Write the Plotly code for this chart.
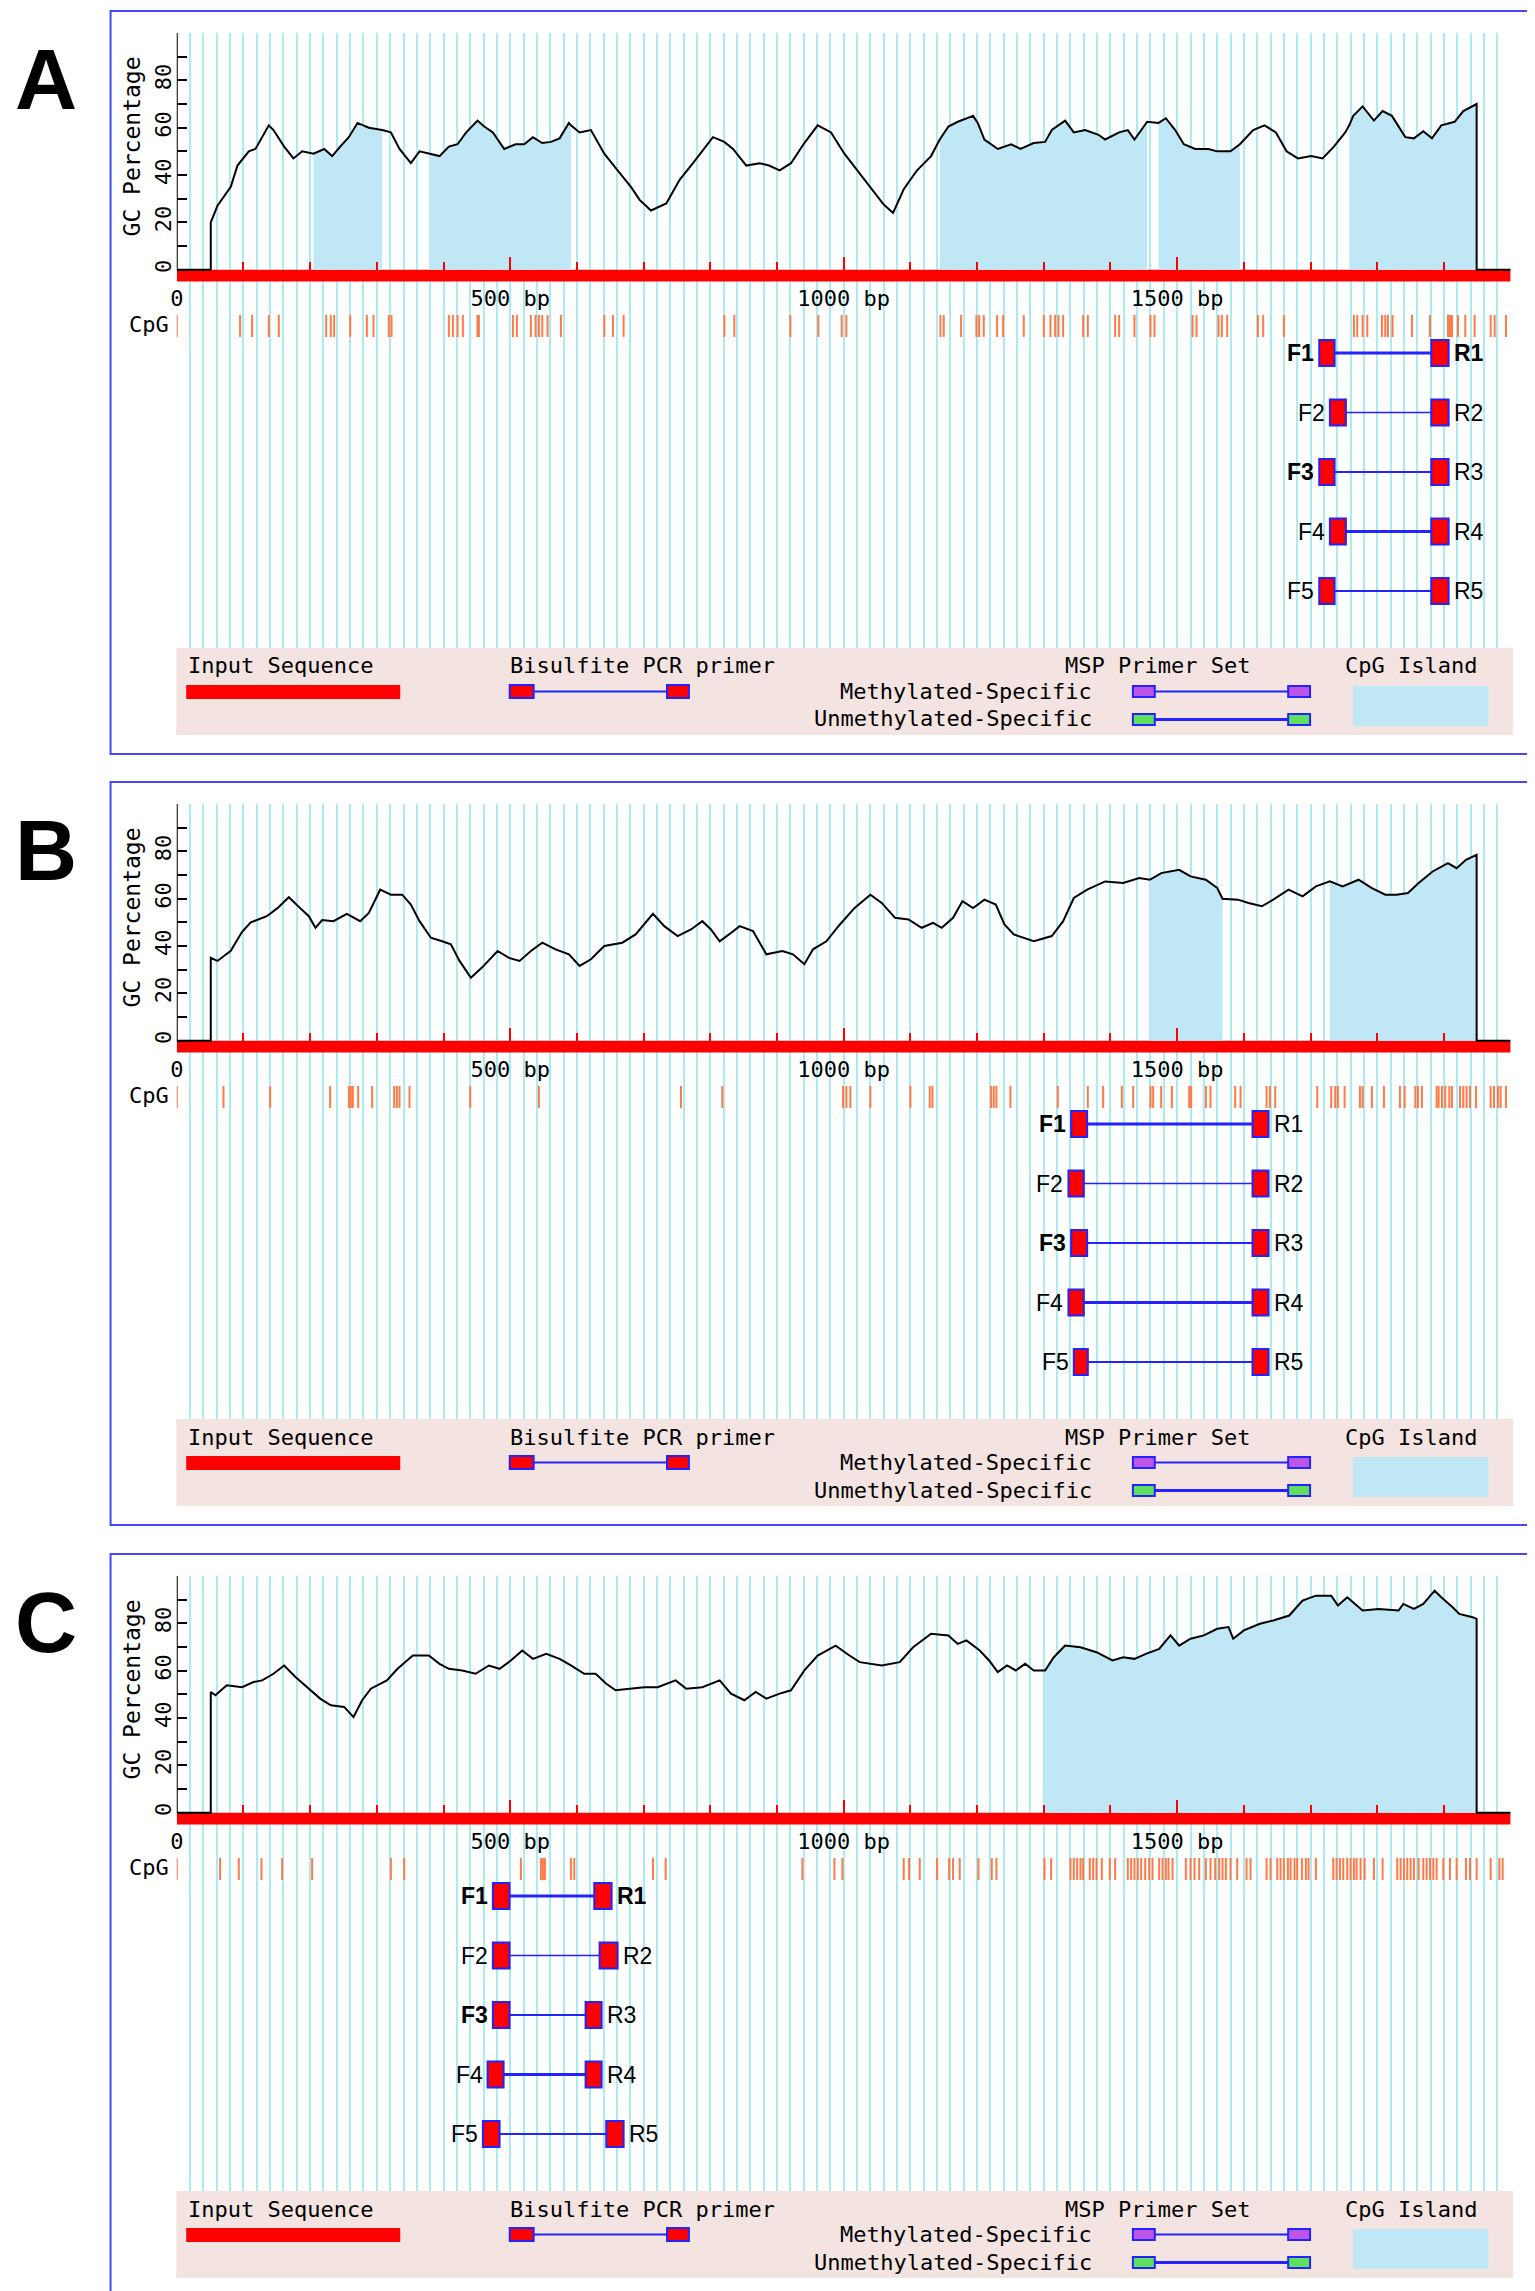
import numpy as np
import plotly.graph_objects as go

W, H = 1535, 2291

# ---------------- data ----------------
seq_len = 2000
panel_letters = ["A", "B", "C"]
x_tickvals = [0, 500, 1000, 1500]
x_ticktext = ["0", "500 bp", "1000 bp", "1500 bp"]
y_tickvals = [0, 20, 40, 60, 80]
y_minor_tickvals = [10, 30, 50, 70, 90, 100]
primer_ids = ["1", "2", "3", "4", "5"]

# panel A
gc_bp_a = [0, 51, 51, 61, 81, 91, 108, 118, 138, 145,
           161, 175, 188, 205, 221, 233, 245, 258, 271, 288,
           308, 321, 334, 351, 364, 378, 394, 408, 421, 434,
           451, 461, 474, 491, 508, 521, 534, 548, 561, 574,
           588, 591, 604, 621, 641, 661, 681, 694, 711, 734,
           754, 774, 791, 804, 821, 834, 854, 874, 888, 904,
           921, 941, 961, 981, 1001, 1023, 1043, 1060, 1074, 1090,
           1110, 1131, 1144, 1157, 1171, 1194, 1201, 1211, 1231, 1251,
           1265, 1285, 1302, 1312, 1332, 1345, 1362, 1382, 1392, 1413,
           1426, 1436, 1455, 1472, 1483, 1497, 1510, 1527, 1547, 1560,
           1580, 1594, 1614, 1631, 1648, 1664, 1681, 1701, 1718, 1735,
           1752, 1758, 1764, 1778, 1795, 1808, 1822, 1842, 1855, 1869,
           1882, 1896, 1916, 1929, 1949, 1949, 2000]
gc_pct_a = [0, 0, 20, 27, 35, 44, 50, 51, 61, 59,
            52, 47, 50, 49, 51, 48, 52, 56, 62, 60,
            59, 58, 51, 45, 50, 49, 48, 52, 53, 58,
            63, 60.5, 58, 51, 53, 53, 56, 53.5, 54, 55.5,
            62, 61, 58, 59, 49, 42, 35, 29.5, 25, 28,
            38, 45, 51, 56, 54, 51, 44, 45, 44, 42,
            45, 53.5, 61, 58, 49, 41, 34, 27.5, 24, 34,
            42, 48, 55, 60.5, 62.5, 65, 62, 55, 51, 53,
            51, 53.5, 54, 59, 63, 58, 59, 57, 55, 58,
            59, 55, 62.5, 62, 64, 59, 53, 51, 51, 50,
            50, 53, 59, 61, 58, 50, 47, 48, 47, 52,
            58, 61, 65, 69, 63, 67, 65, 56, 55.5, 58.5,
            55.5, 61, 62.5, 67, 70, 0, 0]
island_start_a = [205, 378, 1144, 1472, 1758]
island_end_a = [308, 591, 1455, 1594, 1949]
cpg_a = [0, 95, 113, 138, 153, 224, 231, 236, 260, 285, 295, 318, 322, 408, 414,
         421, 429, 451, 453, 504, 510, 531, 538, 543, 548, 556, 576, 641, 654, 670,
         821, 836, 920, 962, 997, 1004, 1145, 1150, 1176, 1199, 1203, 1210, 1230,
         1239, 1270, 1300, 1310, 1317, 1322, 1329, 1359, 1366, 1407, 1413, 1436,
         1460, 1466, 1523, 1529, 1562, 1567, 1575, 1621, 1629, 1660, 1765, 1770,
         1778, 1785, 1807, 1812, 1816, 1823, 1852, 1879, 1906, 1909, 1912, 1921,
         1932, 1946, 1970, 1976, 1993]
fwd_start_a = [1713, 1729, 1713, 1729, 1713]
fwd_end_a = [1736, 1753, 1736, 1753, 1736]
rev_start_a = [1881, 1881, 1881, 1881, 1881]
rev_end_a = [1907, 1907, 1907, 1907, 1907]

# panel B
gc_bp_b = [0, 51, 51, 61, 81, 98, 111, 135, 151, 168,
           185, 198, 208, 218, 235, 255, 275, 288, 305, 321,
           338, 351, 364, 381, 398, 411, 424, 441, 458, 481,
           498, 514, 531, 548, 568, 588, 604, 621, 641, 668,
           688, 704, 714, 731, 751, 771, 788, 801, 814, 828,
           844, 864, 884, 908, 924, 941, 954, 974, 994, 1016,
           1040, 1057, 1077, 1097, 1117, 1134, 1147, 1164, 1178, 1194,
           1211, 1228, 1241, 1255, 1285, 1312, 1329, 1345, 1365, 1392,
           1419, 1443, 1459, 1476, 1503, 1520, 1543, 1560, 1568, 1591,
           1607, 1627, 1644, 1667, 1688, 1708, 1729, 1748, 1772, 1792,
           1812, 1829, 1846, 1862, 1883, 1906, 1919, 1933, 1949, 1949,
           2000]
gc_pct_b = [0, 0, 35, 33.7, 38, 46, 50, 52.6, 56, 60.6,
            56, 52.6, 47.7, 51, 50.5, 53.6, 50.5, 54, 63.8, 61.7,
            61.7, 57.5, 50.5, 43.5, 42, 40.7, 33.7, 26.6, 31, 37.9,
            35, 33.7, 37.9, 41.4, 38.6, 36.5, 31.6, 34.4, 40, 41.4,
            44.9, 50.5, 53.6, 48.4, 44.2, 47, 50.5, 47, 42, 44.9,
            48.4, 46.3, 36.5, 37.9, 36.5, 32.3, 38.6, 42, 49, 56,
            61.7, 58.2, 51.9, 51.2, 47.7, 49.8, 47.7, 51.9, 58.9, 56,
            59.6, 57.5, 49.1, 44.9, 42, 44.2, 50.5, 60.3, 63.8, 67.3,
            66.6, 68.7, 68, 70.8, 72.2, 69.4, 68, 64.5, 60, 59.6,
            58.2, 56.8, 59.6, 63.8, 61, 65.2, 67.3, 65.2, 68, 64.5,
            61.7, 61.7, 62.4, 66.6, 71.5, 75, 72.9, 76.4, 78.5, 0,
            0]
island_start_b = [1459, 1729]
island_end_b = [1568, 1949]
cpg_b = [0, 70, 140, 230, 258, 261, 264, 272, 293, 326, 330, 334, 349, 440, 543,
         756, 818, 999, 1004, 1010, 1040, 1100, 1129, 1133, 1221, 1225, 1229, 1250,
         1321, 1366, 1389, 1417, 1434, 1460, 1464, 1476, 1492, 1518, 1521, 1543,
         1550, 1587, 1595, 1634, 1639, 1647, 1710, 1731, 1737, 1741, 1751, 1774,
         1778, 1792, 1810, 1834, 1841, 1857, 1861, 1867, 1889, 1892, 1897, 1902,
         1908, 1912, 1924, 1929, 1934, 1939, 1948, 1970, 1975, 1981, 1985, 1993]
fwd_start_b = [1341, 1337, 1341, 1337, 1345]
fwd_end_b = [1365, 1360, 1365, 1360, 1366]
rev_start_b = [1613, 1613, 1613, 1613, 1613]
rev_end_b = [1637, 1637, 1637, 1637, 1637]

# panel C
gc_bp_c = [0, 51, 51, 58, 75, 98, 115, 128, 145, 161,
           178, 195, 215, 231, 251, 265, 278, 291, 315, 331,
           354, 378, 394, 408, 428, 448, 468, 484, 501, 518,
           534, 554, 574, 591, 611, 628, 644, 658, 678, 701,
           721, 748, 764, 788, 814, 831, 851, 868, 884, 904,
           921, 941, 961, 988, 1008, 1024, 1057, 1084, 1104, 1131,
           1157, 1171, 1184, 1204, 1218, 1231, 1245, 1258, 1272, 1285,
           1302, 1315, 1332, 1355, 1379, 1403, 1419, 1436, 1453, 1473,
           1490, 1503, 1520, 1540, 1560, 1577, 1584, 1600, 1624, 1644,
           1668, 1688, 1708, 1731, 1741, 1755, 1778, 1802, 1832, 1839,
           1855, 1869, 1886, 1896, 1913, 1923, 1943, 1949, 1949, 2000]
gc_pct_c = [0, 0, 51, 49.6, 53.8, 53, 55.2, 55.9, 58.7, 62.2,
            57.3, 53, 48.2, 45.4, 44.7, 40.4, 47.5, 52.4, 55.9, 60.8,
            66.4, 66.4, 62.9, 60.8, 60.1, 58.7, 62.2, 60.8, 64.3, 68.5,
            65, 67.1, 65, 62.2, 58.7, 58.7, 54.5, 51.7, 52.4, 53,
            53, 55.9, 52.4, 53, 55.9, 50.3, 47.5, 51, 48.2, 50.3,
            51.7, 60.1, 66.4, 70.6, 66.5, 63.6, 62.2, 63.6, 69.9, 75.6,
            74.9, 71.3, 72.8, 68.5, 64.3, 59.4, 62.2, 60.1, 62.9, 60.1,
            60.1, 65.7, 70.6, 69.9, 67.8, 64.3, 65.7, 65, 67.1, 69.2,
            74.9, 70.6, 73.5, 74.9, 77.7, 78.4, 73.5, 77, 79.8, 81.2,
            83.3, 89.6, 91.7, 91.7, 87.5, 91, 85.4, 86.1, 85.4, 88.2,
            86.1, 88.2, 93.8, 91, 86.8, 84, 82.6, 81.9, 0, 0]
island_start_c = [1302]
island_end_c = [1949]
cpg_c = [0, 65, 93, 127, 158, 203, 321, 341, 516, 546, 549, 552, 591, 596, 714,
         733, 938, 986, 998, 1090, 1098, 1114, 1140, 1158, 1164, 1174, 1202, 1222,
         1229, 1301, 1311, 1340, 1345, 1350, 1355, 1359, 1369, 1374, 1379, 1387,
         1399, 1407, 1426, 1431, 1436, 1441, 1446, 1452, 1458, 1463, 1473, 1478,
         1483, 1487, 1493, 1513, 1520, 1526, 1533, 1543, 1550, 1557, 1563, 1568,
         1573, 1580, 1590, 1604, 1610, 1634, 1640, 1650, 1655, 1660, 1666, 1670,
         1676, 1680, 1687, 1693, 1697, 1708, 1734, 1739, 1744, 1749, 1755, 1760,
         1765, 1769, 1775, 1781, 1795, 1808, 1830, 1835, 1840, 1845, 1850, 1855,
         1862, 1869, 1874, 1879, 1884, 1889, 1899, 1909, 1919, 1933, 1939, 1949,
         1970, 1983, 1988]
fwd_start_c = [474, 474, 474, 466, 459]
fwd_end_c = [499, 499, 499, 490, 484]
rev_start_c = [626, 634, 613, 613, 644]
rev_end_c = [652, 661, 637, 637, 670]

# ---------------- layout / style (pixels) ----------------
PANEL_DY = [0, 771, 1543]
X_BP0, X_BPEND = 162.5, 1502.5
Y_TOP, Y_ZERO, Y_GRID_BOTTOM = 25, 261.7, 640
RED_BOTTOM = 273.5
CPG_TOP, CPG_BOTTOM = 307, 329
ROW0, ROW_STEP, BOX_H = 345, 59.5, 26
ROW_LINE_W = [3, 1.5, 2, 3, 2]
BOLD_LABELS = [{"F1", "R1", "F3"}, {"F1", "F3"}, {"F1", "R1", "F3"}]

RED = "#ff0000"
BLUE = "#2323ff"
FRAME = "#4646ff"
GRID = "#a9edf2"
ISLAND = "#bfe7f6"
CPG = "#ff7a48"
PINK = "#f3e4e2"
PURPLE = "#bd55e6"
GREEN = "#5ee05e"
MONO = "DejaVu Sans Mono"
SANS = "Liberation Sans"

units_per_px = 100 / (Y_ZERO - Y_TOP)


def px2x(px):
    return px / W


def px2y(py):
    return 1 - py / H


def gc_units(py):
    # pixel row inside a panel -> GC axis units
    return (Y_ZERO - py) * units_per_px


panels = [
    (gc_bp_a, gc_pct_a, island_start_a, island_end_a, cpg_a,
     fwd_start_a, fwd_end_a, rev_start_a, rev_end_a),
    (gc_bp_b, gc_pct_b, island_start_b, island_end_b, cpg_b,
     fwd_start_b, fwd_end_b, rev_start_b, rev_end_b),
    (gc_bp_c, gc_pct_c, island_start_c, island_end_c, cpg_c,
     fwd_start_c, fwd_end_c, rev_start_c, rev_end_c),
]

fig = go.Figure()
shapes = []
annotations = []
axes = {}

for i, (gbp, gpc, isl_s, isl_e, cpg, fs, fe, rs, re_) in enumerate(panels):
    dy = PANEL_DY[i]
    xn = 2 * i + 1
    xid = "x" if xn == 1 else f"x{xn}"
    gid = f"x{xn + 1}"
    yid = "y" if i == 0 else f"y{i + 1}"
    bp = np.array(gbp, dtype=float)
    pc = np.array(gpc, dtype=float)
    common = dict(xaxis=xid, yaxis=yid, showlegend=False, hoverinfo="skip")

    # empty trace so the grid overlay subplot gets drawn
    fig.add_trace(go.Scatter(x=[None], y=[None], mode="lines", xaxis=gid, yaxis=yid,
                             showlegend=False, hoverinfo="skip"))

    # input sequence bar
    fig.add_trace(go.Bar(
        orientation="h", y=[gc_units((Y_ZERO + RED_BOTTOM) / 2)], base=[0], x=[seq_len],
        width=[(RED_BOTTOM - Y_ZERO) * units_per_px],
        marker=dict(color=RED, line=dict(width=0)), **common))

    # CpG islands
    for s, e in zip(isl_s, isl_e):
        m = (bp >= s) & (bp <= e)
        fig.add_trace(go.Scatter(x=bp[m], y=pc[m], mode="none", fill="tozeroy",
                                 fillcolor=ISLAND, **common))

    # GC curve
    fig.add_trace(go.Scatter(x=bp, y=pc, mode="lines",
                             line=dict(color="black", width=2), **common))

    # CpG sites
    cx, cy = [], []
    for c in cpg:
        cx += [c, c, None]
        cy += [gc_units(CPG_TOP), gc_units(CPG_BOTTOM), None]
    fig.add_trace(go.Scatter(x=cx, y=cy, mode="lines",
                             line=dict(color=CPG, width=2), **common))

    # primers
    row_y = [gc_units(ROW0 + k * ROW_STEP) for k in range(len(primer_ids))]
    for k in range(len(primer_ids)):
        fig.add_trace(go.Scatter(x=[fe[k], rs[k]], y=[row_y[k], row_y[k]], mode="lines",
                                 line=dict(color=BLUE, width=ROW_LINE_W[k]), **common))
    box_w = BOX_H * units_per_px
    for starts, ends in ((fs, fe), (rs, re_)):
        fig.add_trace(go.Bar(
            orientation="h", y=row_y, base=starts,
            x=[e - s for s, e in zip(starts, ends)], width=[box_w] * len(row_y),
            marker=dict(color=RED, line=dict(color=BLUE, width=2)), **common))
    for k, pid in enumerate(primer_ids):
        for lab, xv, anc, sh in (("F" + pid, fs[k], "right", -3), ("R" + pid, re_[k], "left", 3)):
            txt = f"<b>{lab}</b>" if lab in BOLD_LABELS[i] else lab
            annotations.append(dict(xref=xid, yref=yid, x=xv, y=row_y[k], text=txt,
                                    xanchor=anc, yanchor="middle", xshift=sh, showarrow=False,
                                    font=dict(family=SANS, size=23, color="black")))

    # y axis line
    shapes.append(dict(type="line", xref=xid, yref=yid, x0=0, x1=0, y0=0, y1=100,
                       line=dict(color="black", width=2)))

    # axes
    axes["xaxis" if xn == 1 else f"xaxis{xn}"] = dict(
        domain=[px2x(X_BP0), px2x(X_BPEND)], range=[0, seq_len],
        anchor="free", position=px2y(Y_ZERO + dy),
        tickmode="array", tickvals=x_tickvals, ticktext=x_ticktext,
        ticks="inside", ticklen=13, tickwidth=2, tickcolor=RED,
        minor=dict(tickmode="linear", tick0=0, dtick=100, ticks="inside",
                   ticklen=8, tickwidth=2, tickcolor=RED),
        tickfont=dict(family=MONO, size=22, color="black"), ticklabelstandoff=13,
        showgrid=False, zeroline=False, showline=False, fixedrange=True)
    axes[f"xaxis{xn + 1}"] = dict(
        overlaying=xid, anchor=yid, range=[0, seq_len],
        tickmode="linear", tick0=0, dtick=20, showgrid=True, gridcolor=GRID, gridwidth=1.5,
        showticklabels=False, ticks="", zeroline=False, showline=False, fixedrange=True)
    axes["yaxis" if i == 0 else f"yaxis{i + 1}"] = dict(
        domain=[px2y(Y_GRID_BOTTOM + dy), px2y(Y_TOP + dy)],
        range=[gc_units(Y_GRID_BOTTOM), 100], anchor=xid,
        tickmode="array", tickvals=y_tickvals, ticks="inside", ticklen=10, tickwidth=2,
        tickcolor="black",
        minor=dict(tickmode="array", tickvals=y_minor_tickvals, ticks="inside",
                   ticklen=10, tickwidth=2, tickcolor="black"),
        tickangle=-90, tickfont=dict(family=MONO, size=22, color="black"),
        showgrid=False, zeroline=False, showline=False, fixedrange=True)

    # labels
    annotations.append(dict(xref="paper", yref="paper", x=px2x(118), y=px2y(138 + dy),
                            text="GC Percentage", textangle=-90, showarrow=False,
                            xanchor="center", yanchor="middle",
                            font=dict(family=MONO, size=23, color="black")))
    annotations.append(dict(xref="paper", yref="paper", x=px2x(157), y=px2y(316 + dy),
                            text="CpG", showarrow=False, xanchor="right", yanchor="middle",
                            font=dict(family=MONO, size=22, color="black")))
    annotations.append(dict(xref="paper", yref="paper", x=px2x(-2), y=px2y(71 + dy),
                            text=f"<b>{panel_letters[i]}</b>", showarrow=False,
                            xanchor="left", yanchor="middle",
                            font=dict(family=SANS, size=86, color="black")))

    # panel frame
    shapes.append(dict(type="rect", xref="paper", yref="paper",
                       x0=px2x(96), x1=px2x(1533), y0=px2y(3 + dy), y1=px2y(746 + dy),
                       line=dict(color=FRAME, width=2), fillcolor="rgba(0,0,0,0)"))

    # legend box
    def prect(x0, x1, y0, y1, fill, lc=None, lw=0):
        shapes.append(dict(type="rect", xref="paper", yref="paper",
                           x0=px2x(x0), x1=px2x(x1), y0=px2y(y0 + dy), y1=px2y(y1 + dy),
                           fillcolor=fill, line=dict(color=lc or fill, width=lw)))

    def pline(x0, x1, yy, lw):
        shapes.append(dict(type="line", xref="paper", yref="paper",
                           x0=px2x(x0), x1=px2x(x1), y0=px2y(yy + dy), y1=px2y(yy + dy),
                           line=dict(color=BLUE, width=lw)))

    def ptext(x, yy, text, anchor):
        annotations.append(dict(xref="paper", yref="paper", x=px2x(x), y=px2y(yy + dy),
                                text=text, showarrow=False, xanchor=anchor, yanchor="middle",
                                font=dict(family=MONO, size=22, color="black")))

    prect(162, 1505, 640, 727, PINK)
    ptext(172, 658, "Input Sequence", "left")
    prect(172, 387, 677, 691, RED)
    ptext(495, 658, "Bisulfite PCR primer", "left")
    pline(521, 655, 683.5, 2)
    prect(497, 521, 677, 690, RED, BLUE, 2)
    prect(655, 677, 677, 690, RED, BLUE, 2)
    ptext(1053, 658, "MSP Primer Set", "left")
    ptext(1084, 683, "Methylated-Specific", "right")
    pline(1145, 1279, 683.5, 2)
    prect(1123, 1145, 678, 689, PURPLE, BLUE, 2)
    prect(1279, 1301, 678, 689, PURPLE, BLUE, 2)
    ptext(1084, 711, "Unmethylated-Specific", "right")
    pline(1145, 1279, 711.5, 3)
    prect(1123, 1145, 706, 717, GREEN, BLUE, 2)
    prect(1279, 1301, 706, 717, GREEN, BLUE, 2)
    ptext(1334, 658, "CpG Island", "left")
    prect(1344, 1480, 678, 718, ISLAND)

fig.update_layout(
    width=W, height=H,
    margin=dict(l=0, r=0, t=0, b=0),
    paper_bgcolor="white", plot_bgcolor="rgba(0,0,0,0)",
    barmode="overlay", showlegend=False,
    font=dict(family=MONO, size=22, color="black"),
    shapes=shapes, annotations=annotations,
    **axes,
)

fig.write_html("out.html")
